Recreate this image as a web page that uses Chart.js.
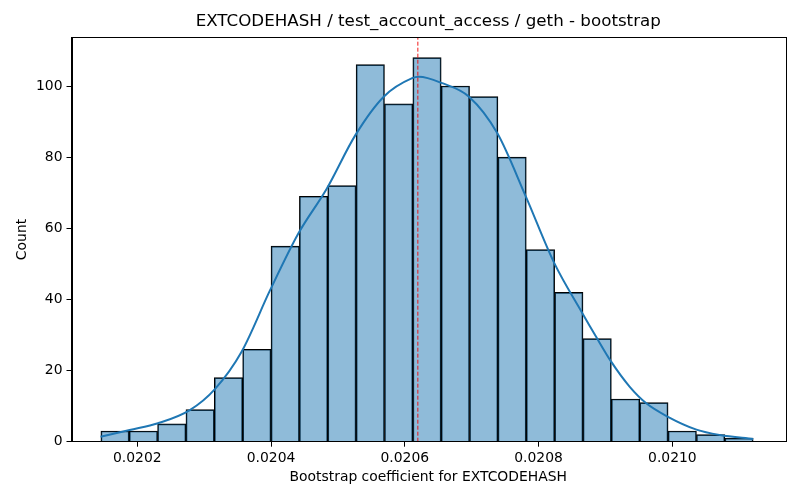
<!DOCTYPE html>
<html>
<head>
<meta charset="utf-8">
<script src="https://cdn.jsdelivr.net/npm/chart.js@4.4.0/dist/chart.umd.min.js"></script>
<style>
  html, body { margin: 0; padding: 0; background: #fff; }
  #wrap { width: 800px; height: 500px; }
</style>
</head>
<body>
<div id="wrap"><canvas id="grafico"></canvas></div>
<script>
// histogram bins (centres) and counts
const binCenters = [0.0201668, 0.0202092, 0.0202516, 0.0202940, 0.0203364, 0.0203788,
  0.0204212, 0.0204636, 0.0205060, 0.0205484, 0.0205908, 0.0206332, 0.0206756,
  0.0207180, 0.0207604, 0.0208028, 0.0208452, 0.0208876, 0.0209300, 0.0209724,
  0.0210148, 0.0210572, 0.0210996];
const counts = [3, 3, 5, 9, 18, 26, 55, 69, 72, 106, 95, 108, 100, 97, 80, 54, 42, 29, 12, 11, 3, 2, 1];

// kde curve
const kdeX = [0.0201451, 0.0201886, 0.0202310, 0.0202786, 0.0203161, 0.0203560, 0.0203986,
  0.0204410, 0.0204835, 0.0205261, 0.0205685, 0.0206110, 0.0206211, 0.0206559, 0.0206960,
  0.0207384, 0.0207810, 0.0208235, 0.0208659, 0.0208860, 0.0209085, 0.0209360, 0.0209610,
  0.0209934, 0.0210360, 0.0210709, 0.0211209];
const kdeY = [1.4, 3.3, 5.2, 8.9, 14.8, 25.3, 42.6, 58.6, 71.2, 86.2, 97, 102.2, 102.6,
  100.8, 97, 86.7, 68.9, 50.2, 36.0, 29.5, 22.5, 15.5, 10.8, 7.0, 3.4, 1.9, 0.76];

// vertical reference line (mean)
const meanValue = 0.0206195;

const xTicks = [0.0202, 0.0204, 0.0206, 0.0208, 0.0210];
const yTicks = [0, 20, 40, 60, 80, 100];

const titulo = 'EXTCODEHASH / test_account_access / geth - bootstrap';
const fonte = 'DejaVu Sans';

// matplotlib style box around the plot area + title centred on the axes
const caixa = {
  id: 'caixa',
  afterDatasetsDraw(chart) {
    const a = chart.chartArea;
    const ctx = chart.ctx;
    ctx.save();
    ctx.strokeStyle = '#000';
    ctx.lineWidth = 1;
    ctx.strokeRect(Math.round(a.left) + 0.5, Math.round(a.top) + 0.5,
      Math.round(a.right - a.left), Math.round(a.bottom - a.top));
    ctx.fillStyle = '#000';
    ctx.font = '16.7px "' + fonte + '"';
    ctx.textAlign = 'center';
    ctx.textBaseline = 'middle';
    ctx.fillText(titulo, (a.left + a.right) / 2, 22);
    ctx.restore();
  }
};

const ctx = document.getElementById('grafico').getContext('2d');

new Chart(ctx, {
  data: {
    datasets: [
      {
        type: 'line',
        label: 'mean',
        data: [{ x: meanValue, y: 0 }, { x: meanValue, y: 113.7 }],
        borderColor: 'rgba(240, 0, 0, 0.9)',
        borderWidth: 1,
        borderDash: [4, 2],
        pointRadius: 0,
        order: 1
      },
      {
        type: 'line',
        label: 'kde',
        data: kdeX.map((x, i) => ({ x: x, y: kdeY[i] })),
        borderColor: '#1f77b4',
        borderWidth: 2,
        pointRadius: 0,
        cubicInterpolationMode: 'monotone',
        order: 2
      },
      {
        type: 'bar',
        label: 'Count',
        data: binCenters.map((x, i) => ({ x: x, y: counts[i] })),
        backgroundColor: 'rgba(31, 119, 180, 0.5)',
        borderColor: '#000',
        borderWidth: 1,
        barPercentage: 1,
        categoryPercentage: 1,
        order: 3
      }
    ]
  },
  options: {
    responsive: true,
    maintainAspectRatio: false,
    animation: false,
    layout: { padding: { left: 0, right: 15, top: 37.3, bottom: 0 } },
    plugins: {
      legend: { display: false },
      tooltip: { enabled: false },
      title: { display: false }
    },
    scales: {
      x: {
        type: 'linear',
        offset: false,
        min: 0.0201017,
        max: 0.0211684,
        afterBuildTicks: (scale) => { scale.ticks = xTicks.map(v => ({ value: v })); },
        afterFit: (scale) => { scale.height = 58.3; },
        ticks: {
          color: '#000',
          font: { family: fonte, size: 13.9 },
          padding: 3,
          maxRotation: 0,
          callback: (v) => Number(v).toFixed(4)
        },
        grid: { display: true, offset: false, drawOnChartArea: false, tickLength: 5, tickColor: '#000' },
        border: { display: true, color: '#000' },
        title: {
          display: true,
          text: 'Bootstrap coefficient for EXTCODEHASH',
          color: '#000',
          font: { family: fonte, size: 13.9 },
          padding: { top: 2, bottom: 14 }
        }
      },
      y: {
        type: 'linear',
        min: 0,
        max: 113.7,
        afterBuildTicks: (scale) => { scale.ticks = yTicks.map(v => ({ value: v })); },
        afterFit: (scale) => { scale.width = 71.5; },
        ticks: {
          color: '#000',
          font: { family: fonte, size: 13.9 },
          padding: 4
        },
        grid: { display: true, drawOnChartArea: false, tickLength: 5, tickColor: '#000' },
        border: { display: true, color: '#000' },
        title: {
          display: true,
          text: 'Count',
          color: '#000',
          font: { family: fonte, size: 13.9 },
          padding: { top: 14, bottom: 4 }
        }
      }
    }
  },
  plugins: [caixa]
});
</script>
</body>
</html>
